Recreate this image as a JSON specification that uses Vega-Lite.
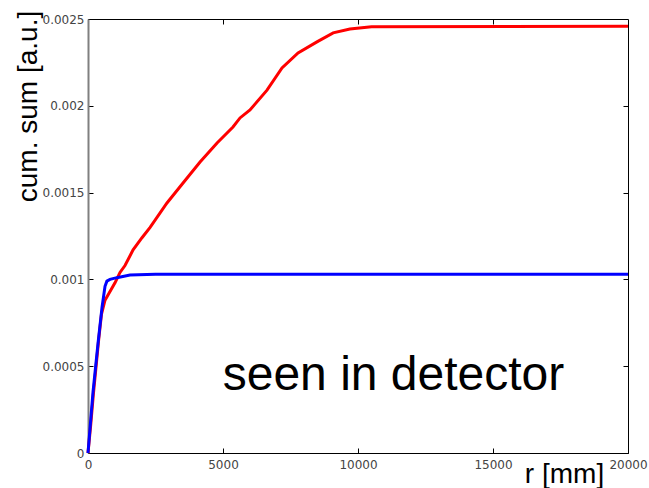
{
  "$schema": "https://vega.github.io/schema/vega-lite/v6.json",
  "width": 540,
  "height": 434,
  "autosize": {"type": "none"},
  "padding": {"left": 88, "top": 19, "right": 21, "bottom": 35},
  "background": "white",
  "config": {
    "view": {"stroke": "black", "strokeWidth": 1},
    "axis": {"grid": false, "labelFont": "DejaVu Sans", "labelFontSize": 12, "labelColor": "#444", "tickColor": "black", "domainColor": "black", "titleFont": "Liberation Sans", "titleFontWeight": "normal", "titleColor": "black"}
  },
  "datasets": {
    "curves": [
      {"r": 0, "v": 0, "s": "all"},
      {"r": 100, "v": 0.00016, "s": "all"},
      {"r": 200, "v": 0.00034, "s": "all"},
      {"r": 300, "v": 0.0005, "s": "all"},
      {"r": 400, "v": 0.00066, "s": "all"},
      {"r": 500, "v": 0.0008, "s": "all"},
      {"r": 630, "v": 0.00088, "s": "all"},
      {"r": 815, "v": 0.00093, "s": "all"},
      {"r": 1000, "v": 0.00098, "s": "all"},
      {"r": 1185, "v": 0.00104, "s": "all"},
      {"r": 1370, "v": 0.00108, "s": "all"},
      {"r": 1670, "v": 0.00117, "s": "all"},
      {"r": 2000, "v": 0.00124, "s": "all"},
      {"r": 2300, "v": 0.0013, "s": "all"},
      {"r": 2925, "v": 0.00144, "s": "all"},
      {"r": 3520, "v": 0.001555, "s": "all"},
      {"r": 4150, "v": 0.001676, "s": "all"},
      {"r": 4780, "v": 0.001786, "s": "all"},
      {"r": 5370, "v": 0.001878, "s": "all"},
      {"r": 5630, "v": 0.00193, "s": "all"},
      {"r": 6000, "v": 0.001976, "s": "all"},
      {"r": 6630, "v": 0.00209, "s": "all"},
      {"r": 7185, "v": 0.002218, "s": "all"},
      {"r": 7780, "v": 0.002304, "s": "all"},
      {"r": 8480, "v": 0.002368, "s": "all"},
      {"r": 9080, "v": 0.00242, "s": "all"},
      {"r": 9700, "v": 0.002442, "s": "all"},
      {"r": 10500, "v": 0.002456, "s": "all"},
      {"r": 20000, "v": 0.002458, "s": "all"},
      {"r": 0, "v": 0, "s": "seen"},
      {"r": 185, "v": 0.00035, "s": "seen"},
      {"r": 370, "v": 0.00063, "s": "seen"},
      {"r": 520, "v": 0.00084, "s": "seen"},
      {"r": 630, "v": 0.00096, "s": "seen"},
      {"r": 700, "v": 0.00099, "s": "seen"},
      {"r": 815, "v": 0.001, "s": "seen"},
      {"r": 1070, "v": 0.00101, "s": "seen"},
      {"r": 1555, "v": 0.001025, "s": "seen"},
      {"r": 2500, "v": 0.00103, "s": "seen"},
      {"r": 20000, "v": 0.00103, "s": "seen"}
    ],
    "notes": [
      {"r": 11315, "v": 0.000363, "label": "seen in detector"}
    ]
  },
  "layer": [
    {
      "data": {"name": "curves"},
      "mark": {"type": "line", "strokeWidth": 3, "interpolate": "linear"},
      "encoding": {
        "x": {"field": "r", "type": "quantitative", "scale": {"domain": [0, 20000], "nice": false},
          "axis": {"orient": "bottom", "values": [0, 5000, 10000, 15000, 20000], "format": "d", "tickSize": -5, "labelPadding": 11, "title": "r [mm]", "titleFontSize": 28, "titleX": 476, "titleY": 29, "titleBaseline": "alphabetic", "titleAlign": "center", "labelOverlap": false, "labelFlush": false}},
        "y": {"field": "v", "type": "quantitative", "scale": {"domain": [0, 0.0025], "nice": false},
          "axis": {"orient": "left", "values": [0, 0.0005, 0.001, 0.0015, 0.002, 0.0025], "format": "~g", "tickSize": -5, "labelPadding": 9, "domainColor": "#808080", "domainWidth": 2, "title": "cum. sum [a.u.]", "titleFontSize": 28, "titleAngle": -90, "titleX": -52, "titleY": 87, "titleBaseline": "alphabetic", "titleAlign": "center", "labelOverlap": false, "labelFlush": false}},
        "color": {"field": "s", "type": "nominal", "scale": {"domain": ["all", "seen"], "range": ["#ff0000", "#0000ff"]}, "legend": null}
      }
    },
    {
      "data": {"name": "notes"},
      "mark": {"type": "text", "font": "Liberation Sans", "fontSize": 48, "align": "center", "baseline": "alphabetic", "color": "black"},
      "encoding": {
        "x": {"field": "r", "type": "quantitative", "axis": {"orient": "top", "values": [5000, 10000, 15000], "labels": false, "tickSize": -5, "title": null, "domain": false}},
        "y": {"field": "v", "type": "quantitative", "axis": {"orient": "right", "values": [0.0005, 0.001, 0.0015, 0.002], "labels": false, "tickSize": -5, "title": null, "domain": false}},
        "text": {"field": "label"}
      }
    }
  ],
  "resolve": {"axis": {"x": "independent", "y": "independent"}}
}
